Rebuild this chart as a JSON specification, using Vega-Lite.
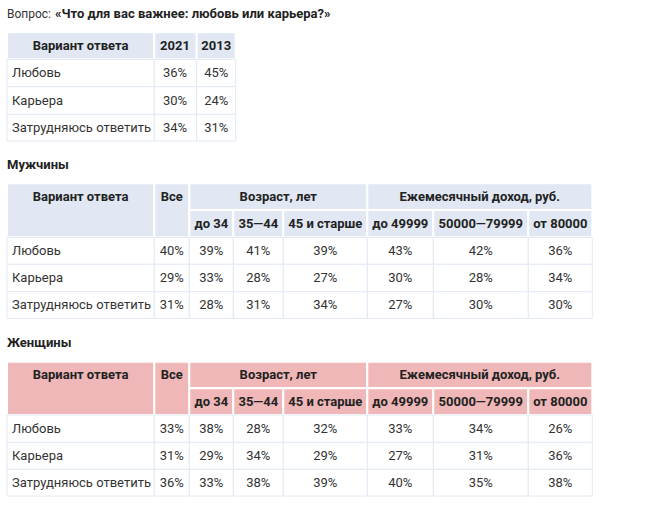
{
  "$schema": "https://vega.github.io/schema/vega-lite/v6.json",
  "width": 652,
  "height": 508,
  "padding": 0,
  "autosize": {"type": "none"},
  "background": "#ffffff",
  "config": {"view": {"stroke": null}, "text": {"font": "Roboto", "fontSize": 13}},
  "datasets": {
    "cells": [
      {"grid": "t", "part": "title", "seg": "plain", "c0": 0, "r0": -1, "label": "Вопрос:"},
      {"grid": "t", "part": "title", "seg": "bold", "c0": 1, "r0": -1, "label": "«Что для вас важнее: любовь или карьера?»"},
      {"grid": "t", "part": "title", "seg": "bold", "c0": 0, "r0": 4, "label": "Мужчины"},
      {"grid": "t", "part": "title", "seg": "bold", "c0": 0, "r0": 10, "label": "Женщины"},

      {"grid": "a", "section": "Вопрос", "part": "header", "c0": 0, "c1": 1, "r0": 0, "r1": 1, "tx": 0, "label": "Вариант ответа"},
      {"grid": "a", "section": "Вопрос", "part": "header", "c0": 1, "c1": 2, "r0": 0, "r1": 1, "tx": 1, "label": "2021"},
      {"grid": "a", "section": "Вопрос", "part": "header", "c0": 2, "c1": 3, "r0": 0, "r1": 1, "tx": 2, "label": "2013"},
      {"grid": "a", "section": "Вопрос", "part": "body", "role": "label", "c0": 0, "c1": 1, "r0": 1, "r1": 2, "label": "Любовь"},
      {"grid": "a", "section": "Вопрос", "part": "body", "role": "value", "c0": 1, "c1": 2, "r0": 1, "r1": 2, "value": 0.36},
      {"grid": "a", "section": "Вопрос", "part": "body", "role": "value", "c0": 2, "c1": 3, "r0": 1, "r1": 2, "value": 0.45},
      {"grid": "a", "section": "Вопрос", "part": "body", "role": "label", "c0": 0, "c1": 1, "r0": 2, "r1": 3, "label": "Карьера"},
      {"grid": "a", "section": "Вопрос", "part": "body", "role": "value", "c0": 1, "c1": 2, "r0": 2, "r1": 3, "value": 0.30},
      {"grid": "a", "section": "Вопрос", "part": "body", "role": "value", "c0": 2, "c1": 3, "r0": 2, "r1": 3, "value": 0.24},
      {"grid": "a", "section": "Вопрос", "part": "body", "role": "label", "c0": 0, "c1": 1, "r0": 3, "r1": 4, "label": "Затрудняюсь ответить"},
      {"grid": "a", "section": "Вопрос", "part": "body", "role": "value", "c0": 1, "c1": 2, "r0": 3, "r1": 4, "value": 0.34},
      {"grid": "a", "section": "Вопрос", "part": "body", "role": "value", "c0": 2, "c1": 3, "r0": 3, "r1": 4, "value": 0.31},

      {"grid": "b", "section": "Мужчины", "part": "header", "c0": 0, "c1": 1, "r0": 5, "r1": 7, "tx": 0, "label": "Вариант ответа"},
      {"grid": "b", "section": "Мужчины", "part": "header", "c0": 1, "c1": 2, "r0": 5, "r1": 7, "tx": 1, "label": "Все"},
      {"grid": "b", "section": "Мужчины", "part": "header", "c0": 2, "c1": 5, "r0": 5, "r1": 6, "tx": 8, "label": "Возраст, лет"},
      {"grid": "b", "section": "Мужчины", "part": "header", "c0": 5, "c1": 8, "r0": 5, "r1": 6, "tx": 9, "label": "Ежемесячный доход, руб."},
      {"grid": "b", "section": "Мужчины", "part": "header", "c0": 2, "c1": 3, "r0": 6, "r1": 7, "tx": 2, "label": "до 34"},
      {"grid": "b", "section": "Мужчины", "part": "header", "c0": 3, "c1": 4, "r0": 6, "r1": 7, "tx": 3, "label": "35—44"},
      {"grid": "b", "section": "Мужчины", "part": "header", "c0": 4, "c1": 5, "r0": 6, "r1": 7, "tx": 4, "label": "45 и старше"},
      {"grid": "b", "section": "Мужчины", "part": "header", "c0": 5, "c1": 6, "r0": 6, "r1": 7, "tx": 5, "label": "до 49999"},
      {"grid": "b", "section": "Мужчины", "part": "header", "c0": 6, "c1": 7, "r0": 6, "r1": 7, "tx": 6, "label": "50000—79999"},
      {"grid": "b", "section": "Мужчины", "part": "header", "c0": 7, "c1": 8, "r0": 6, "r1": 7, "tx": 7, "label": "от 80000"},

      {"grid": "b", "section": "Мужчины", "part": "body", "role": "label", "c0": 0, "c1": 1, "r0": 7, "r1": 8, "label": "Любовь"},
      {"grid": "b", "section": "Мужчины", "part": "body", "role": "value", "c0": 1, "c1": 2, "r0": 7, "r1": 8, "value": 0.40},
      {"grid": "b", "section": "Мужчины", "part": "body", "role": "value", "c0": 2, "c1": 3, "r0": 7, "r1": 8, "value": 0.39},
      {"grid": "b", "section": "Мужчины", "part": "body", "role": "value", "c0": 3, "c1": 4, "r0": 7, "r1": 8, "value": 0.41},
      {"grid": "b", "section": "Мужчины", "part": "body", "role": "value", "c0": 4, "c1": 5, "r0": 7, "r1": 8, "value": 0.39},
      {"grid": "b", "section": "Мужчины", "part": "body", "role": "value", "c0": 5, "c1": 6, "r0": 7, "r1": 8, "value": 0.43},
      {"grid": "b", "section": "Мужчины", "part": "body", "role": "value", "c0": 6, "c1": 7, "r0": 7, "r1": 8, "value": 0.42},
      {"grid": "b", "section": "Мужчины", "part": "body", "role": "value", "c0": 7, "c1": 8, "r0": 7, "r1": 8, "value": 0.36},
      {"grid": "b", "section": "Мужчины", "part": "body", "role": "label", "c0": 0, "c1": 1, "r0": 8, "r1": 9, "label": "Карьера"},
      {"grid": "b", "section": "Мужчины", "part": "body", "role": "value", "c0": 1, "c1": 2, "r0": 8, "r1": 9, "value": 0.29},
      {"grid": "b", "section": "Мужчины", "part": "body", "role": "value", "c0": 2, "c1": 3, "r0": 8, "r1": 9, "value": 0.33},
      {"grid": "b", "section": "Мужчины", "part": "body", "role": "value", "c0": 3, "c1": 4, "r0": 8, "r1": 9, "value": 0.28},
      {"grid": "b", "section": "Мужчины", "part": "body", "role": "value", "c0": 4, "c1": 5, "r0": 8, "r1": 9, "value": 0.27},
      {"grid": "b", "section": "Мужчины", "part": "body", "role": "value", "c0": 5, "c1": 6, "r0": 8, "r1": 9, "value": 0.30},
      {"grid": "b", "section": "Мужчины", "part": "body", "role": "value", "c0": 6, "c1": 7, "r0": 8, "r1": 9, "value": 0.28},
      {"grid": "b", "section": "Мужчины", "part": "body", "role": "value", "c0": 7, "c1": 8, "r0": 8, "r1": 9, "value": 0.34},
      {"grid": "b", "section": "Мужчины", "part": "body", "role": "label", "c0": 0, "c1": 1, "r0": 9, "r1": 10, "label": "Затрудняюсь ответить"},
      {"grid": "b", "section": "Мужчины", "part": "body", "role": "value", "c0": 1, "c1": 2, "r0": 9, "r1": 10, "value": 0.31},
      {"grid": "b", "section": "Мужчины", "part": "body", "role": "value", "c0": 2, "c1": 3, "r0": 9, "r1": 10, "value": 0.28},
      {"grid": "b", "section": "Мужчины", "part": "body", "role": "value", "c0": 3, "c1": 4, "r0": 9, "r1": 10, "value": 0.31},
      {"grid": "b", "section": "Мужчины", "part": "body", "role": "value", "c0": 4, "c1": 5, "r0": 9, "r1": 10, "value": 0.34},
      {"grid": "b", "section": "Мужчины", "part": "body", "role": "value", "c0": 5, "c1": 6, "r0": 9, "r1": 10, "value": 0.27},
      {"grid": "b", "section": "Мужчины", "part": "body", "role": "value", "c0": 6, "c1": 7, "r0": 9, "r1": 10, "value": 0.30},
      {"grid": "b", "section": "Мужчины", "part": "body", "role": "value", "c0": 7, "c1": 8, "r0": 9, "r1": 10, "value": 0.30},

      {"grid": "b", "section": "Женщины", "part": "header", "c0": 0, "c1": 1, "r0": 11, "r1": 13, "tx": 0, "label": "Вариант ответа"},
      {"grid": "b", "section": "Женщины", "part": "header", "c0": 1, "c1": 2, "r0": 11, "r1": 13, "tx": 1, "label": "Все"},
      {"grid": "b", "section": "Женщины", "part": "header", "c0": 2, "c1": 5, "r0": 11, "r1": 12, "tx": 8, "label": "Возраст, лет"},
      {"grid": "b", "section": "Женщины", "part": "header", "c0": 5, "c1": 8, "r0": 11, "r1": 12, "tx": 9, "label": "Ежемесячный доход, руб."},
      {"grid": "b", "section": "Женщины", "part": "header", "c0": 2, "c1": 3, "r0": 12, "r1": 13, "tx": 2, "label": "до 34"},
      {"grid": "b", "section": "Женщины", "part": "header", "c0": 3, "c1": 4, "r0": 12, "r1": 13, "tx": 3, "label": "35—44"},
      {"grid": "b", "section": "Женщины", "part": "header", "c0": 4, "c1": 5, "r0": 12, "r1": 13, "tx": 4, "label": "45 и старше"},
      {"grid": "b", "section": "Женщины", "part": "header", "c0": 5, "c1": 6, "r0": 12, "r1": 13, "tx": 5, "label": "до 49999"},
      {"grid": "b", "section": "Женщины", "part": "header", "c0": 6, "c1": 7, "r0": 12, "r1": 13, "tx": 6, "label": "50000—79999"},
      {"grid": "b", "section": "Женщины", "part": "header", "c0": 7, "c1": 8, "r0": 12, "r1": 13, "tx": 7, "label": "от 80000"},

      {"grid": "b", "section": "Женщины", "part": "body", "role": "label", "c0": 0, "c1": 1, "r0": 13, "r1": 14, "label": "Любовь"},
      {"grid": "b", "section": "Женщины", "part": "body", "role": "value", "c0": 1, "c1": 2, "r0": 13, "r1": 14, "value": 0.33},
      {"grid": "b", "section": "Женщины", "part": "body", "role": "value", "c0": 2, "c1": 3, "r0": 13, "r1": 14, "value": 0.38},
      {"grid": "b", "section": "Женщины", "part": "body", "role": "value", "c0": 3, "c1": 4, "r0": 13, "r1": 14, "value": 0.28},
      {"grid": "b", "section": "Женщины", "part": "body", "role": "value", "c0": 4, "c1": 5, "r0": 13, "r1": 14, "value": 0.32},
      {"grid": "b", "section": "Женщины", "part": "body", "role": "value", "c0": 5, "c1": 6, "r0": 13, "r1": 14, "value": 0.33},
      {"grid": "b", "section": "Женщины", "part": "body", "role": "value", "c0": 6, "c1": 7, "r0": 13, "r1": 14, "value": 0.34},
      {"grid": "b", "section": "Женщины", "part": "body", "role": "value", "c0": 7, "c1": 8, "r0": 13, "r1": 14, "value": 0.26},
      {"grid": "b", "section": "Женщины", "part": "body", "role": "label", "c0": 0, "c1": 1, "r0": 14, "r1": 15, "label": "Карьера"},
      {"grid": "b", "section": "Женщины", "part": "body", "role": "value", "c0": 1, "c1": 2, "r0": 14, "r1": 15, "value": 0.31},
      {"grid": "b", "section": "Женщины", "part": "body", "role": "value", "c0": 2, "c1": 3, "r0": 14, "r1": 15, "value": 0.29},
      {"grid": "b", "section": "Женщины", "part": "body", "role": "value", "c0": 3, "c1": 4, "r0": 14, "r1": 15, "value": 0.34},
      {"grid": "b", "section": "Женщины", "part": "body", "role": "value", "c0": 4, "c1": 5, "r0": 14, "r1": 15, "value": 0.29},
      {"grid": "b", "section": "Женщины", "part": "body", "role": "value", "c0": 5, "c1": 6, "r0": 14, "r1": 15, "value": 0.27},
      {"grid": "b", "section": "Женщины", "part": "body", "role": "value", "c0": 6, "c1": 7, "r0": 14, "r1": 15, "value": 0.31},
      {"grid": "b", "section": "Женщины", "part": "body", "role": "value", "c0": 7, "c1": 8, "r0": 14, "r1": 15, "value": 0.36},
      {"grid": "b", "section": "Женщины", "part": "body", "role": "label", "c0": 0, "c1": 1, "r0": 15, "r1": 16, "label": "Затрудняюсь ответить"},
      {"grid": "b", "section": "Женщины", "part": "body", "role": "value", "c0": 1, "c1": 2, "r0": 15, "r1": 16, "value": 0.36},
      {"grid": "b", "section": "Женщины", "part": "body", "role": "value", "c0": 2, "c1": 3, "r0": 15, "r1": 16, "value": 0.33},
      {"grid": "b", "section": "Женщины", "part": "body", "role": "value", "c0": 3, "c1": 4, "r0": 15, "r1": 16, "value": 0.38},
      {"grid": "b", "section": "Женщины", "part": "body", "role": "value", "c0": 4, "c1": 5, "r0": 15, "r1": 16, "value": 0.39},
      {"grid": "b", "section": "Женщины", "part": "body", "role": "value", "c0": 5, "c1": 6, "r0": 15, "r1": 16, "value": 0.40},
      {"grid": "b", "section": "Женщины", "part": "body", "role": "value", "c0": 6, "c1": 7, "r0": 15, "r1": 16, "value": 0.35},
      {"grid": "b", "section": "Женщины", "part": "body", "role": "value", "c0": 7, "c1": 8, "r0": 15, "r1": 16, "value": 0.38}
    ]
  },
  "data": {"name": "cells"},
  "layer": [
    {
      "transform": [{"filter": "datum.grid === 'a'"}],
      "mark": {"type": "rect"},
      "encoding": {
        "x": {"field": "c0", "type": "quantitative", "axis": null, "scale": {"domain": [0, 1, 2, 3], "range": [7, 154.3, 196.7, 235.7], "nice": false, "zero": false}},
        "x2": {"field": "c1"},
        "y": {"field": "r0", "type": "quantitative", "axis": null, "scale": {"domain": [0, 1, 2, 3, 4, 5, 6, 7, 8, 9, 10, 11, 12, 13, 14, 15, 16], "range": [32.3, 59.3, 86.7, 114.3, 141, 183.3, 210, 237.3, 264.3, 291.7, 318.3, 361.7, 388.3, 415, 442.3, 469.3, 496], "nice": false, "zero": false}},
        "y2": {"field": "r1"},
        "fill": {"condition": {"test": "datum.part === 'body'", "value": "#ffffff"}, "field": "section", "type": "nominal", "legend": null, "scale": {"domain": ["Вопрос", "Мужчины", "Женщины"], "range": ["#e1e8f3", "#e1e8f3", "#efb7b7"]}},
        "stroke": {"condition": {"test": "datum.part === 'body'", "value": "#e2e9f3"}, "value": "#ffffff"},
        "strokeWidth": {"condition": {"test": "datum.part === 'body'", "value": 1}, "value": 2}
      }
    },
    {
      "transform": [{"filter": "datum.grid === 'b'"}],
      "mark": {"type": "rect"},
      "encoding": {
        "x": {"field": "c0", "type": "quantitative", "axis": null, "scale": {"domain": [0, 1, 2, 3, 4, 5, 6, 7, 8], "range": [7, 154.3, 189.3, 233.3, 283.3, 367.3, 433.3, 528.3, 592.3], "nice": false, "zero": false}},
        "x2": {"field": "c1"},
        "y": {"field": "r0", "type": "quantitative", "axis": null, "scale": {"domain": [0, 1, 2, 3, 4, 5, 6, 7, 8, 9, 10, 11, 12, 13, 14, 15, 16], "range": [32.3, 59.3, 86.7, 114.3, 141, 183.3, 210, 237.3, 264.3, 291.7, 318.3, 361.7, 388.3, 415, 442.3, 469.3, 496], "nice": false, "zero": false}},
        "y2": {"field": "r1"},
        "fill": {"condition": {"test": "datum.part === 'body'", "value": "#ffffff"}, "field": "section", "type": "nominal", "legend": null, "scale": {"domain": ["Вопрос", "Мужчины", "Женщины"], "range": ["#e1e8f3", "#e1e8f3", "#efb7b7"]}},
        "stroke": {"condition": {"test": "datum.part === 'body'", "value": "#e2e9f3"}, "value": "#ffffff"},
        "strokeWidth": {"condition": {"test": "datum.part === 'body'", "value": 1}, "value": 2}
      }
    },
    {
      "transform": [{"filter": "datum.grid === 'a' && datum.part === 'header'"}],
      "mark": {"type": "text", "align": "center", "baseline": "middle", "fontWeight": "bold", "color": "#222222"},
      "encoding": {
        "x": {"field": "tx", "type": "quantitative", "axis": null, "scale": {"domain": [0, 1, 2], "range": [80.6, 175, 216.2], "nice": false, "zero": false}},
        "y": {"field": "r0", "type": "quantitative", "axis": null, "scale": {"domain": [-1, 0, 1, 2, 3, 4, 5, 6, 7, 8, 9, 10, 11, 12, 13, 14, 15], "range": [14, 45.8, 73, 100.5, 127.7, 165, 196.7, 223.7, 250.8, 278, 305, 343.3, 375, 401.7, 428.7, 455.8, 482.7], "nice": false, "zero": false}},
        "text": {"field": "label", "type": "nominal"}
      }
    },
    {
      "transform": [{"filter": "datum.grid === 'b' && datum.part === 'header'"}],
      "mark": {"type": "text", "align": "center", "baseline": "middle", "fontWeight": "bold", "color": "#222222"},
      "encoding": {
        "x": {"field": "tx", "type": "quantitative", "axis": null, "scale": {"domain": [0, 1, 2, 3, 4, 5, 6, 7, 8, 9], "range": [80.6, 171.8, 211.3, 258.3, 325.3, 400.3, 480.8, 560.3, 278.3, 479.8], "nice": false, "zero": false}},
        "y": {"field": "r0", "type": "quantitative", "axis": null, "scale": {"domain": [-1, 0, 1, 2, 3, 4, 5, 6, 7, 8, 9, 10, 11, 12, 13, 14, 15], "range": [14, 45.8, 73, 100.5, 127.7, 165, 196.7, 223.7, 250.8, 278, 305, 343.3, 375, 401.7, 428.7, 455.8, 482.7], "nice": false, "zero": false}},
        "text": {"field": "label", "type": "nominal"}
      }
    },
    {
      "transform": [{"filter": "datum.grid === 'a' && datum.role === 'value'"}],
      "mark": {"type": "text", "align": "center", "baseline": "middle", "color": "#333333"},
      "encoding": {
        "x": {"field": "c0", "type": "quantitative", "axis": null, "scale": {"domain": [0, 1, 2], "range": [80.6, 175, 216.2], "nice": false, "zero": false}},
        "y": {"field": "r0", "type": "quantitative", "axis": null, "scale": {"domain": [-1, 0, 1, 2, 3, 4, 5, 6, 7, 8, 9, 10, 11, 12, 13, 14, 15], "range": [14, 45.8, 73, 100.5, 127.7, 165, 196.7, 223.7, 250.8, 278, 305, 343.3, 375, 401.7, 428.7, 455.8, 482.7], "nice": false, "zero": false}},
        "text": {"field": "value", "type": "quantitative", "format": ".0%"}
      }
    },
    {
      "transform": [{"filter": "datum.grid === 'b' && datum.role === 'value'"}],
      "mark": {"type": "text", "align": "center", "baseline": "middle", "color": "#333333"},
      "encoding": {
        "x": {"field": "c0", "type": "quantitative", "axis": null, "scale": {"domain": [0, 1, 2, 3, 4, 5, 6, 7], "range": [80.6, 171.8, 211.3, 258.3, 325.3, 400.3, 480.8, 560.3], "nice": false, "zero": false}},
        "y": {"field": "r0", "type": "quantitative", "axis": null, "scale": {"domain": [-1, 0, 1, 2, 3, 4, 5, 6, 7, 8, 9, 10, 11, 12, 13, 14, 15], "range": [14, 45.8, 73, 100.5, 127.7, 165, 196.7, 223.7, 250.8, 278, 305, 343.3, 375, 401.7, 428.7, 455.8, 482.7], "nice": false, "zero": false}},
        "text": {"field": "value", "type": "quantitative", "format": ".0%"}
      }
    },
    {
      "transform": [{"filter": "datum.role === 'label'"}],
      "mark": {"type": "text", "align": "left", "baseline": "middle", "dx": 5, "color": "#333333"},
      "encoding": {
        "x": {"field": "c0", "type": "quantitative", "axis": null, "scale": {"domain": [0, 1], "range": [7, 154.3], "nice": false, "zero": false}},
        "y": {"field": "r0", "type": "quantitative", "axis": null, "scale": {"domain": [-1, 0, 1, 2, 3, 4, 5, 6, 7, 8, 9, 10, 11, 12, 13, 14, 15], "range": [14, 45.8, 73, 100.5, 127.7, 165, 196.7, 223.7, 250.8, 278, 305, 343.3, 375, 401.7, 428.7, 455.8, 482.7], "nice": false, "zero": false}},
        "text": {"field": "label", "type": "nominal"}
      }
    },
    {
      "transform": [{"filter": "datum.part === 'title' && datum.seg === 'plain'"}],
      "mark": {"type": "text", "align": "left", "baseline": "middle", "fontSize": 12, "color": "#333333"},
      "encoding": {
        "x": {"field": "c0", "type": "quantitative", "axis": null, "scale": {"domain": [0, 1], "range": [7, 55], "nice": false, "zero": false}},
        "y": {"field": "r0", "type": "quantitative", "axis": null, "scale": {"domain": [-1, 0, 1, 2, 3, 4, 5, 6, 7, 8, 9, 10, 11, 12, 13, 14, 15], "range": [14, 45.8, 73, 100.5, 127.7, 165, 196.7, 223.7, 250.8, 278, 305, 343.3, 375, 401.7, 428.7, 455.8, 482.7], "nice": false, "zero": false}},
        "text": {"field": "label", "type": "nominal"}
      }
    },
    {
      "transform": [{"filter": "datum.part === 'title' && datum.seg === 'bold'"}],
      "mark": {"type": "text", "align": "left", "baseline": "middle", "fontWeight": "bold", "color": "#222222"},
      "encoding": {
        "x": {"field": "c0", "type": "quantitative", "axis": null, "scale": {"domain": [0, 1], "range": [7, 55], "nice": false, "zero": false}},
        "y": {"field": "r0", "type": "quantitative", "axis": null, "scale": {"domain": [-1, 0, 1, 2, 3, 4, 5, 6, 7, 8, 9, 10, 11, 12, 13, 14, 15], "range": [14, 45.8, 73, 100.5, 127.7, 165, 196.7, 223.7, 250.8, 278, 305, 343.3, 375, 401.7, 428.7, 455.8, 482.7], "nice": false, "zero": false}},
        "text": {"field": "label", "type": "nominal"}
      }
    }
  ],
  "resolve": {"scale": {"x": "independent", "y": "independent"}}
}
